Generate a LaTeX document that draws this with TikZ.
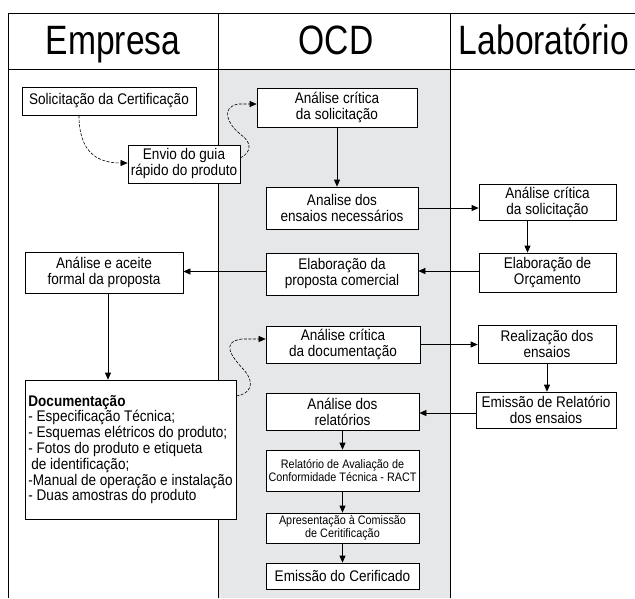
\documentclass[tikz,border=0pt]{standalone}
\usepackage{fontspec}
\setmainfont{Liberation Sans}
\newfontfamily\condensedfont[FakeStretch=0.88]{Liberation Sans}
\newfontfamily\headfont[FakeStretch=0.82]{Liberation Sans}
\usetikzlibrary{arrows.meta}
\definecolor{lanegray}{RGB}{230,231,232}

\begin{document}
\begin{tikzpicture}[x=1pt,y=-1pt,box/.style={draw,line width=0.7pt,fill=white,align=center,inner sep=1pt,font=\condensedfont\fontsize{15.4}{16}\selectfont},smallbox/.style={box,font=\condensedfont\fontsize{12.3}{13.5}\selectfont},lane/.style={anchor=base,font=\headfont\fontsize{41}{44}\selectfont},flow/.style={line width=0.7pt,-{Triangle[length=7pt,width=6pt]}},loop/.style={line width=0.6pt,dash pattern=on 3pt off 1.5pt,-{Triangle[length=7pt,width=6pt]}}]
\useasboundingbox (0,0) rectangle (635,598);
\fill[lanegray] (218,69) rectangle (450,598);
\draw[line width=0.8pt] (8,598) -- (8,13) -- (635,13);
\draw[line width=0.8pt] (8,69) -- (635,69);
\draw[line width=0.8pt] (218,13) -- (218,598);
\draw[line width=0.8pt] (450,13) -- (450,598);
\node[lane] (empresa) at (113,54) {Empresa};
\node[lane] (ocd) at (336,54) {OCD};
\node[lane] (lab) at (544,54) {Laboratório};
\node[box,minimum width=174,minimum height=28] (solic) at (109,101) {Solicitação da Certificação};
\node[box,minimum width=112,minimum height=38] (envio) at (184,164) {Envio do guia\\rápido do produto};
\node[box,minimum width=160,minimum height=39] (critsol) at (337,107.5) {Análise crítica\\da solicitação};
\node[box,minimum width=152,minimum height=42] (ensaios) at (342,208) {Analise dos\\ensaios necessários};
\node[box,minimum width=137,minimum height=36] (labcrit) at (547.5,202) {Análise crítica\\da solicitação};
\node[box,minimum width=137,minimum height=39] (orcam) at (547.5,272.5) {Elaboração de\\Orçamento};
\node[box,minimum width=152,minimum height=42] (proposta) at (342,274) {Elaboração da\\proposta comercial};
\node[box,minimum width=158,minimum height=41] (aceite) at (104,272.5) {Análise e aceite\\formal da proposta};
\node[box,align=left,minimum width=211,minimum height=139,font=\condensedfont\fontsize{15.4}{15.8}\selectfont] (docs) at (130.5,449.5) {\textbf{Documentação}\\- Especificação Técnica;\\- Esquemas elétricos do produto;\\- Fotos do produto e etiqueta\\\hspace{3pt}de identificação;\\-Manual de operação e instalação\\- Duas amostras do produto};
\node[box,minimum width=154,minimum height=37] (critdoc) at (343,344.5) {Análise crítica\\da documentação};
\node[box,minimum width=138,minimum height=38] (ensaio) at (547,344) {Realização dos\\ensaios};
\node[box,minimum width=140,minimum height=36] (relens) at (546,410) {Emissão de Relatório\\dos ensaios};
\node[box,minimum width=153,minimum height=37] (relat) at (342.5,411.5) {Análise dos\\relatórios};
\node[smallbox,minimum width=153,minimum height=41] (ract) at (342.5,470.5) {Relatório de Avaliação de\\Conformidade Técnica - RACT};
\node[smallbox,minimum width=153,minimum height=30] (comissao) at (342.5,528) {Apresentação à Comissão\\de Ceritificação};
\node[box,minimum width=153,minimum height=26] (cert) at (342.5,576) {Emissão do Cerificado};
% fluxo principal
\draw[loop] ([xshift=-30]solic.south) .. controls (79,150) and (95,163) .. ([yshift=1]envio.west);
\draw[loop] ([yshift=6]envio.east) .. controls (252,152) and (252,142) .. (240,134) .. controls (228,124) and (220,108) .. (238,104) -- ([yshift=3.5]critsol.west);
\draw[flow] (critsol.south) -- (critsol.south |- ensaios.north);
\draw[flow] (ensaios.east) -- (ensaios.east -| labcrit.west);
\draw[flow] ([xshift=-20]labcrit.south) -- ([xshift=-20]labcrit.south |- orcam.north);
\draw[flow] ([yshift=1.5]orcam.west) -- ([yshift=1.5]orcam.west -| proposta.east);
\draw[flow] ([yshift=2.5]proposta.west) -- ([yshift=2.5]proposta.west -| aceite.east);
\draw[flow] ([xshift=4]aceite.south) -- ([xshift=4]aceite.south |- docs.north);
\draw[loop] ([yshift=53.5]docs.east) .. controls (250,394) and (256,384) .. (244,370) .. controls (232,357) and (220,342) .. (242,339) -- ([yshift=5.5]critdoc.west);
\draw[flow] (critdoc.east) -- (critdoc.east -| ensaio.west);
\draw[flow] (ensaio.south) -- (ensaio.south |- relens.north);
\draw[flow] ([yshift=-3]relens.west) -- ([yshift=-3]relens.west -| relat.east);
\draw[flow] (relat.south) -- (ract.north);
\draw[flow] (ract.south) -- (comissao.north);
\draw[flow] (comissao.south) -- (cert.north);
\end{tikzpicture}
\end{document}
